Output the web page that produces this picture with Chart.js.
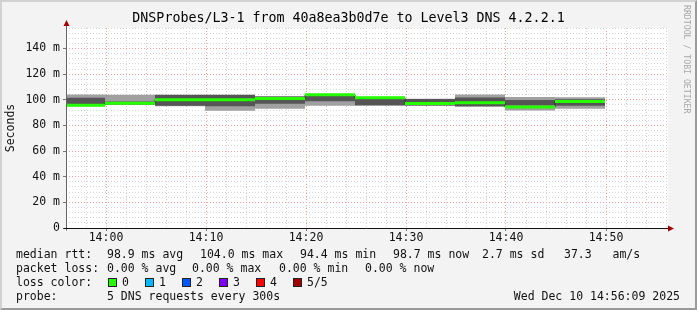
<!DOCTYPE html>
<html>
<head>
<meta charset="utf-8">
<script src="https://cdn.jsdelivr.net/npm/chart.js@4.4.0/dist/chart.umd.min.js"></script>
<style>
  html, body { margin: 0; padding: 0; background: #f3f3f3; }
  #wrap { position: relative; width: 697px; height: 310px; overflow: hidden;
          font-family: 'DejaVu Sans Mono', monospace; font-size: 11.5px; color: #111; }
  #chart { position: absolute; left: 0; top: 0; }
  #frame { position: absolute; left: 0; top: 0; width: 697px; height: 310px; box-sizing: border-box;
           border: 2px solid; border-color: #d2d2d2 #9a9a9a #9a9a9a #d2d2d2; pointer-events: none; }
  .item { position: absolute; white-space: pre; line-height: 14px; }
  .swatch { position: absolute; width: 7px; height: 7px; border: 1px solid #222; }
  #brand { position: absolute; left: 682px; top: 5px; writing-mode: vertical-rl; font-size: 8.2px;
           color: #a8a8a8; white-space: pre; }
</style>
</head>
<body>
<div id="wrap">
  <canvas id="chart" width="697" height="310"></canvas>
  <div id="legend"></div>
  <div id="brand">RRDTOOL / TOBI OETIKER</div>
  <div id="frame"></div>
</div>
<script>
// each value covers the 5 minutes that end at the given time
const periodEnds = ['14:00', '14:05', '14:10', '14:15', '14:20', '14:25', '14:30', '14:35', '14:40', '14:45', '14:50'];
const medianRtt = [95.7, 97.3, 100.0, 100.0, 101.0, 104.0, 101.5, 97.1, 97.7, 94.4, 98.7];
const pingMax   = [104.1, 104.0, 104.1, 104.1, 102.7, 104.5, 102.3, 100.8, 104.1, 102.1, 102.0];
const ping4     = [101.6, 98.6, 103.8, 103.8, 102.5, 103.2, 101.8, 100.6, 101.7, 99.8, 100.4];
const ping2     = [96.0, 96.3, 95.3, 95.0, 96.9, 98.8, 95.7, 95.6, 95.0, 95.5, 95.3];
const pingMin   = [95.0, 96.0, 95.0, 91.5, 93.0, 95.4, 95.3, 95.3, 94.6, 91.6, 93.0];

const viewStart = '13:56:06';
const viewEnd = '14:56:06';
const yMax = 156;
const yMinorStep = 4;
const yMajorStep = 20;
const xMinorStep = 2;
const xMajorStep = 10;

const titleText = 'DNSProbes/L3-1 from 40a8ea3b0d7e to Level3 DNS 4.2.2.1';
// legend rows: [text, x] pieces, one list per row
const legendRows = [
  [['median rtt:', 16], ['98.9 ms avg', 107], ['104.0 ms max', 200], ['94.4 ms min', 300],
   ['98.7 ms now', 393], ['2.7 ms sd', 482], ['37.3   am/s', 564]],
  [['packet loss:', 16], ['0.00 % avg', 107], ['0.00 % max', 192], ['0.00 % min', 279], ['0.00 % now', 365]],
  [['loss color:', 16]],
  [['probe:', 16], ['5 DNS requests every 300s', 107]]
];
const lossLabels = ['0', '1', '2', '3', '4', '5/5'];
const lossColors = ['#26ff00', '#00b8ff', '#0059ff', '#7e00ff', '#ff0000', '#a10000'];
const stampText = 'Wed Dec 10 14:56:09 2025';

const FONT = "'DejaVu Sans Mono', monospace";

// minutes relative to 14:00
function toMin(s) {
  let p = s.split(':').map(Number);
  return (p[0] - 14) * 60 + p[1] + (p[2] || 0) / 60;
}

function stepPoints(values) {
  let pts = values.map((v, i) => ({ x: toMin(periodEnds[i]) - 5, y: v }));
  pts.push({ x: toMin(periodEnds[periodEnds.length - 1]), y: values[values.length - 1] });
  return pts;
}

// flat pieces with gaps, so the thick median has no vertical joins
function flatPieces(values) {
  let pts = [];
  values.forEach((v, i) => {
    let end = toMin(periodEnds[i]);
    pts.push({ x: end - 5, y: v }, { x: end, y: v }, { x: end, y: null });
  });
  return pts;
}

function clock(m) {
  let t = 14 * 60 + m;
  let h = Math.floor(t / 60), mm = t % 60;
  return h + ':' + String(mm).padStart(2, '0');
}

// legend rows below the graph
let legend = document.getElementById('legend');
function addItem(text, x, y) {
  let el = document.createElement('div');
  el.className = 'item';
  el.style.left = x + 'px';
  el.style.top = y + 'px';
  el.textContent = text;
  legend.appendChild(el);
}
legendRows.forEach((row, i) => {
  row.forEach(p => addItem(p[0], p[1], 247 + i * 14));
});
lossLabels.forEach((lab, j) => {
  let sw = document.createElement('div');
  sw.className = 'swatch';
  sw.style.left = (108 + j * 37) + 'px';
  sw.style.top = '278px';
  sw.style.background = lossColors[j];
  legend.appendChild(sw);
  addItem(lab, 122 + j * 37, 275);
});
let stamp = document.createElement('div');
stamp.className = 'item';
stamp.style.right = '17px';
stamp.style.top = '289px';
stamp.textContent = stampText;
legend.appendChild(stamp);

const areaBackground = {
  id: 'areaBackground',
  beforeDraw(chart) {
    let a = chart.chartArea, ctx = chart.ctx;
    ctx.save();
    ctx.fillStyle = '#ffffff';
    ctx.fillRect(a.left, a.top, a.right - a.left + 2, a.bottom - a.top);
    ctx.restore();
  }
};

// rrdtool style axes with arrow heads
const arrowAxes = {
  id: 'arrowAxes',
  afterDraw(chart) {
    let a = chart.chartArea, ctx = chart.ctx;
    let x0 = Math.round(a.left) + 0.5, y0 = Math.round(a.bottom) + 0.5;
    ctx.save();
    ctx.lineWidth = 1;
    ctx.strokeStyle = '#666';
    ctx.beginPath();
    ctx.moveTo(x0, y0 + 2);
    ctx.lineTo(x0, a.top - 6);
    ctx.stroke();
    ctx.strokeStyle = '#111';
    ctx.beginPath();
    ctx.moveTo(x0 - 3, y0);
    ctx.lineTo(a.right + 3, y0);
    ctx.stroke();
    ctx.fillStyle = '#a00000';
    ctx.beginPath();
    ctx.moveTo(x0 - 3, a.top - 2);
    ctx.lineTo(x0 + 3, a.top - 2);
    ctx.lineTo(x0, a.top - 8);
    ctx.closePath();
    ctx.fill();
    ctx.beginPath();
    ctx.moveTo(a.right + 2, y0 - 3);
    ctx.lineTo(a.right + 2, y0 + 3);
    ctx.lineTo(a.right + 8, y0);
    ctx.closePath();
    ctx.fill();
    ctx.restore();
  }
};

let ctx = document.getElementById('chart').getContext('2d');
new Chart(ctx, {
  type: 'line',
  data: {
    datasets: [
      {
        label: 'median',
        data: flatPieces(medianRtt),
        borderColor: '#26ff00',
        borderWidth: 3,
        spanGaps: false,
        pointRadius: 0,
        fill: false,
        order: 0
      },
      {
        label: 'median joins',
        data: stepPoints(medianRtt),
        borderColor: '#333333',
        borderWidth: 1,
        stepped: 'before',
        pointRadius: 0,
        fill: false,
        order: 1
      },
      {
        label: 'ping 4',
        data: stepPoints(ping4),
        borderWidth: 0,
        borderColor: 'rgba(0,0,0,0)',
        backgroundColor: '#555555',
        stepped: 'before',
        pointRadius: 0,
        fill: { target: 3 },
        order: 2
      },
      {
        label: 'ping 2',
        data: stepPoints(ping2),
        borderWidth: 0,
        borderColor: 'rgba(0,0,0,0)',
        stepped: 'before',
        pointRadius: 0,
        fill: false,
        order: 2
      },
      {
        label: 'max',
        data: stepPoints(pingMax),
        borderWidth: 0,
        borderColor: 'rgba(0,0,0,0)',
        backgroundColor: '#a0a0a0',
        stepped: 'before',
        pointRadius: 0,
        fill: { target: 5 },
        order: 3
      },
      {
        label: 'min',
        data: stepPoints(pingMin),
        borderWidth: 0,
        borderColor: 'rgba(0,0,0,0)',
        stepped: 'before',
        pointRadius: 0,
        fill: false,
        order: 3
      }
    ]
  },
  options: {
    responsive: false,
    animation: false,
    events: [],
    layout: { padding: 0 },
    plugins: {
      legend: { display: false },
      tooltip: { enabled: false },
      title: {
        display: true,
        text: titleText,
        color: '#000',
        font: { family: FONT, size: 13.3, weight: 'normal', lineHeight: 1.2 },
        padding: { top: 11, bottom: 1.04 }
      },
      filler: { propagate: false }
    },
    scales: {
      x: {
        type: 'linear',
        min: toMin(viewStart),
        max: toMin(viewEnd),
        border: { display: false, dash: [1, 2] },
        grid: {
          drawTicks: true,
          tickLength: 3,
          tickColor: c => (Math.round(c.tick.value) % xMajorStep === 0 ? '#777' : 'rgba(0,0,0,0)'),
          color: c => (Math.round(c.tick.value) % xMajorStep === 0 ? '#f2a0a0' : '#d4d4d4'),
          lineWidth: 1
        },
        ticks: {
          stepSize: xMinorStep,
          includeBounds: false,
          autoSkip: false,
          maxRotation: 0,
          padding: 0.5,
          color: '#111',
          font: { family: FONT, size: 11.5 },
          callback: v => (Math.round(v) % xMajorStep === 0 ? clock(Math.round(v)) : '')
        },
        afterFit: s => { s.height = 82; }
      },
      y: {
        min: 0,
        max: yMax,
        border: { display: false, dash: [1, 2] },
        grid: {
          drawTicks: true,
          tickLength: 3,
          tickColor: c => (Math.round(c.tick.value) % yMajorStep === 0 ? '#777' : 'rgba(0,0,0,0)'),
          color: c => (Math.round(c.tick.value) % yMajorStep === 0 ? '#f2a0a0' : '#d4d4d4'),
          lineWidth: 1
        },
        ticks: {
          stepSize: yMinorStep,
          autoSkip: false,
          padding: 3,
          color: '#111',
          font: { family: FONT, size: 11.5 },
          callback: v => {
            if (Math.round(v) % yMajorStep !== 0) return '';
            return v === 0 ? '0' : v + ' m';
          }
        },
        title: {
          display: true,
          text: 'Seconds',
          color: '#111',
          font: { family: FONT, size: 11.5 },
          padding: { top: 4, bottom: 0 }
        },
        afterFit: s => { s.width = 66; }
      },
      // empty strip on the right so the plot ends where the reference does
      yRight: {
        position: 'right',
        min: 0,
        max: yMax,
        border: { display: false },
        grid: { display: false },
        ticks: { display: false },
        afterFit: s => { s.width = 31; }
      }
    }
  },
  plugins: [areaBackground, arrowAxes]
});
</script>
</body>
</html>
